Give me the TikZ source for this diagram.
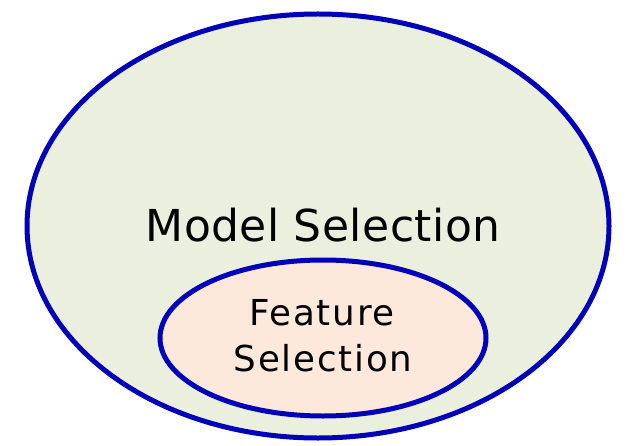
\documentclass[tikz,border=0pt]{standalone}
\usepackage{fontspec}
\setmainfont{DejaVu Sans}
\newfontfamily\bigfont[LetterSpace=1]{DejaVu Sans}
\newfontfamily\smallfont[LetterSpace=5]{DejaVu Sans}
\usetikzlibrary{shapes.geometric}
\definecolor{outerfill}{HTML}{EBEFDE}
\definecolor{innerfill}{HTML}{FDE9DC}
\definecolor{rim}{HTML}{0000B8}
\tikzset{
  setbox/.style={ellipse, draw=rim, line width=5pt, inner sep=0pt},
  lbl/.style={anchor=base, inner sep=0pt, text=black}
}
\begin{document}
\begin{tikzpicture}[x=1pt,y=1pt]
\useasboundingbox (0,0) rectangle (631,445);
\node[setbox, fill=outerfill, minimum width=582pt, minimum height=424pt] (outer) at (318,219) {};
\node[setbox, fill=innerfill, minimum width=326pt, minimum height=156pt] (inner) at (323,107) {};
\node[lbl, font=\bigfont\fontsize{44}{50}\selectfont] (model) at (323,204) {Model Selection};
\node[lbl, font=\smallfont\fontsize{35.7}{42}\selectfont] (feat) at (322,120) {Feature};
\node[lbl, font=\smallfont\fontsize{35.7}{42}\selectfont] (sel) at (323,74) {Selection};
\end{tikzpicture}
\end{document}
